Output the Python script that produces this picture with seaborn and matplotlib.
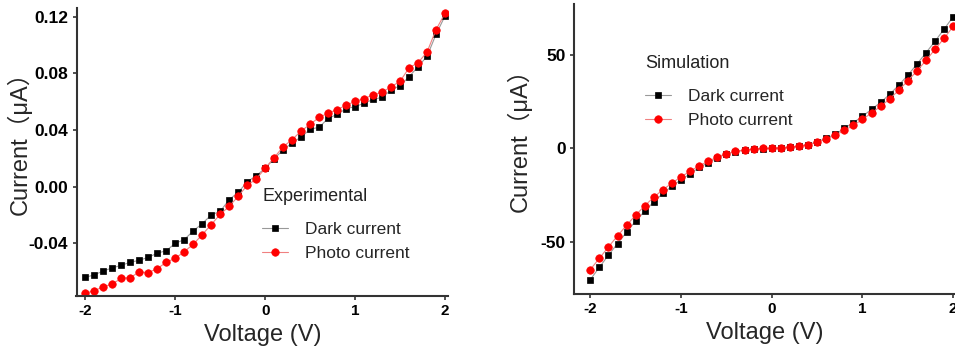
import matplotlib
matplotlib.use("Agg")
import matplotlib.pyplot as plt
import seaborn as sns
import numpy as np
import pandas as pd

sns.set_theme(style="ticks")
plt.rcParams['font.family'] = ['Liberation Sans', 'Noto Sans CJK SC', 'DejaVu Sans']
plt.rcParams['axes.unicode_minus'] = False

voltage = [round(-2 + 0.1 * i, 1) for i in range(41)]

exp_dark = [-0.064, -0.0623, -0.0595, -0.0574, -0.0555, -0.0534, -0.052, -0.0499, -0.047, -0.0452,
            -0.040, -0.0374, -0.0313, -0.0261, -0.020, -0.0174, -0.0092, -0.004, 0.0033, 0.0078,
            0.0129, 0.0198, 0.0259, 0.031, 0.035, 0.0405, 0.0419, 0.0482, 0.051, 0.055,
            0.0565, 0.0588, 0.0616, 0.063, 0.0682, 0.0713, 0.0776, 0.0847, 0.092, 0.1075, 0.1205]
exp_photo = [-0.0753, -0.0734, -0.0708, -0.0687, -0.0647, -0.0642, -0.0602, -0.0607, -0.0579, -0.0534,
             -0.0506, -0.0459, -0.0407, -0.0339, -0.0268, -0.0195, -0.0139, -0.0068, 0.0009, 0.0054,
             0.0129, 0.0205, 0.0282, 0.0332, 0.0393, 0.044, 0.0489, 0.0518, 0.0544, 0.0574,
             0.0602, 0.0621, 0.0647, 0.0666, 0.0704, 0.0744, 0.0838, 0.0875, 0.095, 0.1108, 0.1224]

sim_dark = [-70.2, -63.6, -57.1, -50.9, -44.8, -38.8, -33.6, -28.6, -24.1, -20.2,
            -16.8, -13.6, -10.2, -7.7, -5.0, -3.0, -1.8, -0.9, -0.4, -0.2,
            0.0, 0.2, 0.5, 1.1, 2.0, 3.4, 5.4, 7.5, 10.7, 13.8,
            17.1, 20.9, 24.6, 28.9, 33.8, 39.1, 45.0, 51.1, 57.3, 63.8, 70.4]
sim_photo = [-64.8, -58.8, -52.7, -46.8, -41.1, -35.7, -30.7, -26.1, -22.1, -18.6,
             -15.2, -12.3, -9.3, -7.0, -4.6, -2.9, -1.6, -0.9, -0.4, 0.0,
             0.0, 0.4, 0.7, 1.25, 2.0, 3.2, 5.0, 7.0, 9.6, 12.3,
             15.5, 18.9, 22.5, 26.4, 31.1, 36.1, 41.4, 47.0, 53.0, 58.9, 65.2]

x_ticks = [-2, -1, 0, 1, 2]
x_tick_labels = ["-2", "-1", "0", "1", "2"]
left_y_ticks = [-0.04, 0.00, 0.04, 0.08, 0.12]
left_y_tick_labels = ["-0.04", "0.00", "0.04", "0.08", "0.12"]
right_y_ticks = [-50, 0, 50]
right_y_tick_labels = ["-50", "0", "50"]

W, H = 955, 347
fig = plt.figure(figsize=(W / 100, H / 100), dpi=100)
ax1 = fig.add_axes([76.5 / W, (H - 296) / H, 371.5 / W, 288 / H])
ax2 = fig.add_axes([574 / W, (H - 294) / H, 381 / W, 290 / H])

spine_col = "#333333"

def draw(ax, dark, photo, title, xlim, ylim, yticks, yticklabels, leg_anchor, ylab_x):
    df = pd.DataFrame({"V": voltage, "dark": dark, "photo": photo})
    sns.lineplot(data=df, x="V", y="dark", ax=ax, color="#999999", lw=0.8,
                 marker="s", markersize=4.6, markerfacecolor="black",
                 markeredgecolor="black", markeredgewidth=0.5, label="Dark current")
    sns.lineplot(data=df, x="V", y="photo", ax=ax, color="#f08080", lw=0.8,
                 marker="o", markersize=5.4, markerfacecolor="red",
                 markeredgecolor="red", markeredgewidth=0.5, label="Photo current")
    ax.set_xlim(*xlim)
    ax.set_ylim(*ylim)
    ax.set_xticks(x_ticks)
    ax.set_xticklabels(x_tick_labels, fontweight="bold", fontsize=11)
    ax.set_yticks(yticks)
    ax.set_yticklabels(yticklabels, fontweight="bold", fontsize=12.5)
    for s in ["top", "right"]:
        ax.spines[s].set_visible(False)
    for s in ["left", "bottom"]:
        ax.spines[s].set_linewidth(1.5)
        ax.spines[s].set_color(spine_col)
    ax.tick_params(direction="out", length=3, width=1.2, color=spine_col,
                   labelcolor="black", pad=3)
    ax.set_xlabel("Voltage (V)", fontsize=17, labelpad=4)
    ax.set_ylabel("Current（μA）", fontsize=17)
    ax.yaxis.set_label_coords(ylab_x, 0.55)
    ax.set_facecolor("white")
    leg = ax.legend(loc="upper left", bbox_to_anchor=leg_anchor, frameon=False,
                    title=title, alignment="left", fontsize=12.5, title_fontsize=13,
                    handlelength=1.5, handletextpad=1.0, labelspacing=0.52,
                    borderpad=0, borderaxespad=0)
    leg.get_title().set_color("#222222")
    leg._legend_box.sep = 12

draw(ax1, exp_dark, exp_photo, "Experimental", (-2.098, 2.033), (-0.0772, 0.1261),
     left_y_ticks, left_y_tick_labels, ((262 - 76.5) / 371.5, (296 - 188) / 288), -0.12)
draw(ax2, sim_dark, sim_photo, "Simulation", (-2.18, 2.02), (-77.9, 77.2),
     right_y_ticks, right_y_tick_labels, ((645 - 574) / 381, (294 - 55) / 290), -0.11)

fig.savefig("out.png", dpi=100, facecolor="white")
